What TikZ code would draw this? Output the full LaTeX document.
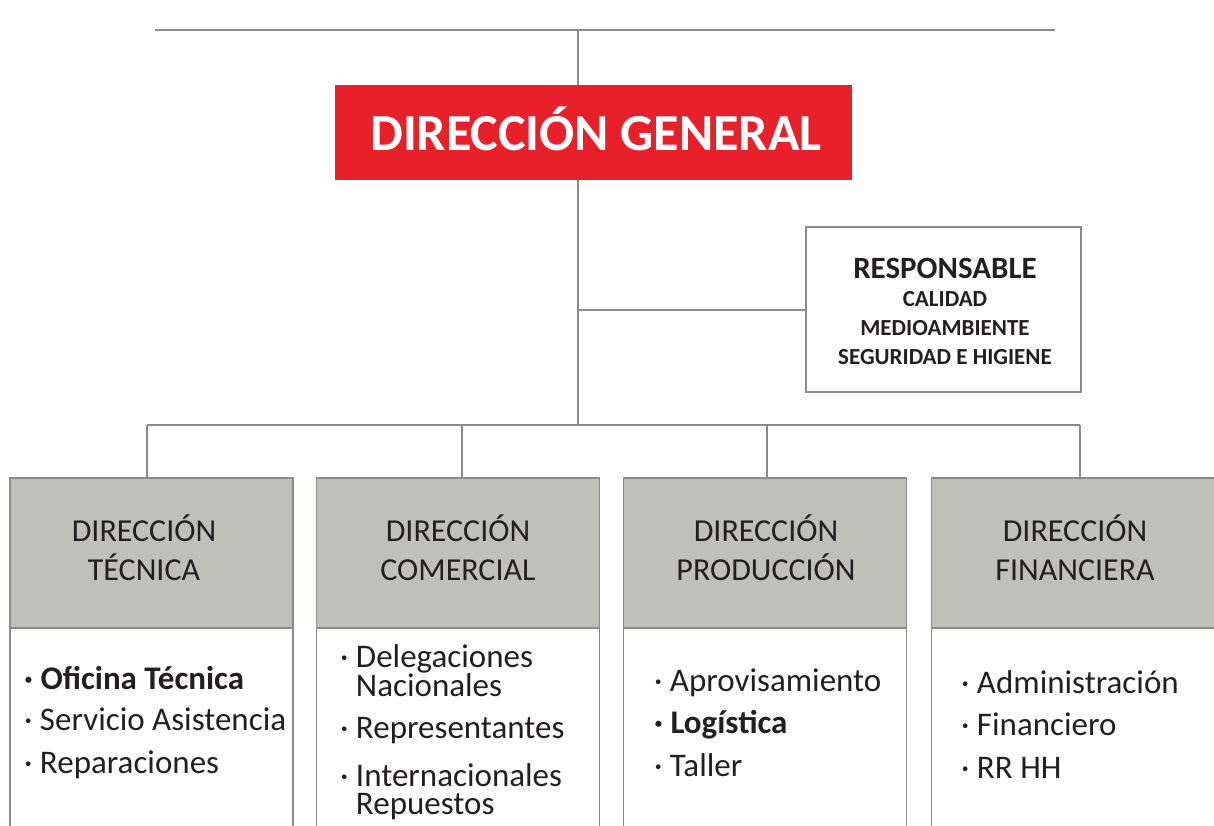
\documentclass[tikz,border=0pt]{standalone}
\usepackage{fontspec}
\setmainfont{Carlito}
\definecolor{linegray}{HTML}{8A8C8A}
\definecolor{hdrgray}{HTML}{BEC0B9}
\definecolor{titlered}{HTML}{E8202A}
\definecolor{txt}{HTML}{231F20}
\newcommand\rmainfnt{\fontsize{31}{29}\selectfont\bfseries}
\begin{document}
\begin{tikzpicture}[x=1pt,y=-1pt,
  conn/.style={draw=linegray, line width=2pt},
  titlebox/.style={fill=titlered, inner sep=0, minimum width=517pt, minimum height=95pt},
  titletext/.style={text=white, inner sep=0, font=\fontsize{52}{60}\selectfont\bfseries},
  resp/.style={draw=linegray, line width=2pt, fill=white, inner sep=0, minimum width=275pt,
    minimum height=165pt},
  resptext/.style={text=txt, inner sep=0, align=center, font=\fontsize{23}{29}\selectfont\bfseries},
  hdr/.style={draw=linegray, line width=1.5pt, fill=hdrgray, inner sep=0, minimum width=283pt,
    minimum height=150pt},
  hdrtext/.style={text=txt, inner sep=0, align=center, font=\fontsize{32}{39}\selectfont},
  body/.style={draw=linegray, line width=1.5pt, fill=white, inner sep=0, minimum width=283pt, minimum height=202pt},
  item/.style={anchor=base west, inner sep=0, text=txt, font=\fontsize{33}{33}\selectfont},
  bitem/.style={item, font=\fontsize{33}{33}\selectfont\bfseries},
  item2/.style={anchor=north west, inner sep=0, text=txt, align=left, font=\fontsize{33}{28}\selectfont}
]
\fill[white] (0,0) rectangle (1214,825);
\clip (0,0) rectangle (1214,825);

% coordinates
\coordinate (topL) at (155,30);
\coordinate (topR) at (1055,30);
\coordinate (topM) at (578,30);
\coordinate (respJ) at (578,310);
\coordinate (busM) at (578,425);
\coordinate (bus1) at (147,425);
\coordinate (bus2) at (462,425);
\coordinate (bus3) at (767,425);
\coordinate (bus4) at (1080,425);

% boxes
\node[titlebox] (gen) at (593.5,132.5) {};
\node[titletext] (gent) at (596,129) {DIRECCIÓN GENERAL};
\node[resp] (resp) at (943.5,309.5) {};
\node[resptext] (respt) at (945,311) {%
  \rmainfnt RESPONSABLE\\[-1pt]
  CALIDAD\\ MEDIOAMBIENTE\\ SEGURIDAD E HIGIENE};

\node[hdr] (h1) at (151.5,553) {};
\node[hdr] (h2) at (458,553) {};
\node[hdr] (h3) at (765,553) {};
\node[hdr] (h4) at (1073,553) {};
\node[hdrtext] (h1t) at (144,548) {DIRECCIÓN\\TÉCNICA};
\node[hdrtext] (h2t) at (458,548) {DIRECCIÓN\\COMERCIAL};
\node[hdrtext] (h3t) at (766,548) {DIRECCIÓN\\PRODUCCIÓN};
\node[hdrtext] (h4t) at (1075,548) {DIRECCIÓN\\FINANCIERA};

\node[body] (b1) at (151.5,729) {};
\node[body] (b2) at (458,729) {};
\node[body] (b3) at (765,729) {};
\node[body] (b4) at (1073,729) {};

% connectors
\draw[conn] (topL) -- (topR);
\draw[conn] (topM) -- (topM |- gen.north);
\draw[conn] (gen.south -| topM) -- (busM);
\draw[conn] (respJ) -- (resp.west |- respJ);
\draw[conn] (bus1) -- (bus4);
\draw[conn] (bus1) -- (bus1 |- h1.north);
\draw[conn] (bus2) -- (bus2 |- h2.north);
\draw[conn] (bus3) -- (bus3 |- h3.north);
\draw[conn] (bus4) -- (bus4 |- h4.north);

% items
\node[bitem] (t1) at (24,689) {· Oficina Técnica};
\node[item]  (t2) at (24,730) {· Servicio Asistencia};
\node[item]  (t3) at (24,773) {· Reparaciones};

\node[item2] (c1) at (340,644) {· Delegaciones\\\phantom{· }Nacionales};
\node[item]  (c2) at (340,738) {· Representantes};
\node[item2] (c3) at (340,763) {· Internacionales\\\phantom{· }Repuestos};

\node[item]  (p1) at (654,691) {· Aprovisamiento};
\node[bitem] (p2) at (654,733) {· Logística};
\node[item]  (p3) at (654,776) {· Taller};

\node[item] (f1) at (961,693) {· Administración};
\node[item] (f2) at (961,735) {· Financiero};
\node[item] (f3) at (961,778) {· RR HH};
\end{tikzpicture}
\end{document}
